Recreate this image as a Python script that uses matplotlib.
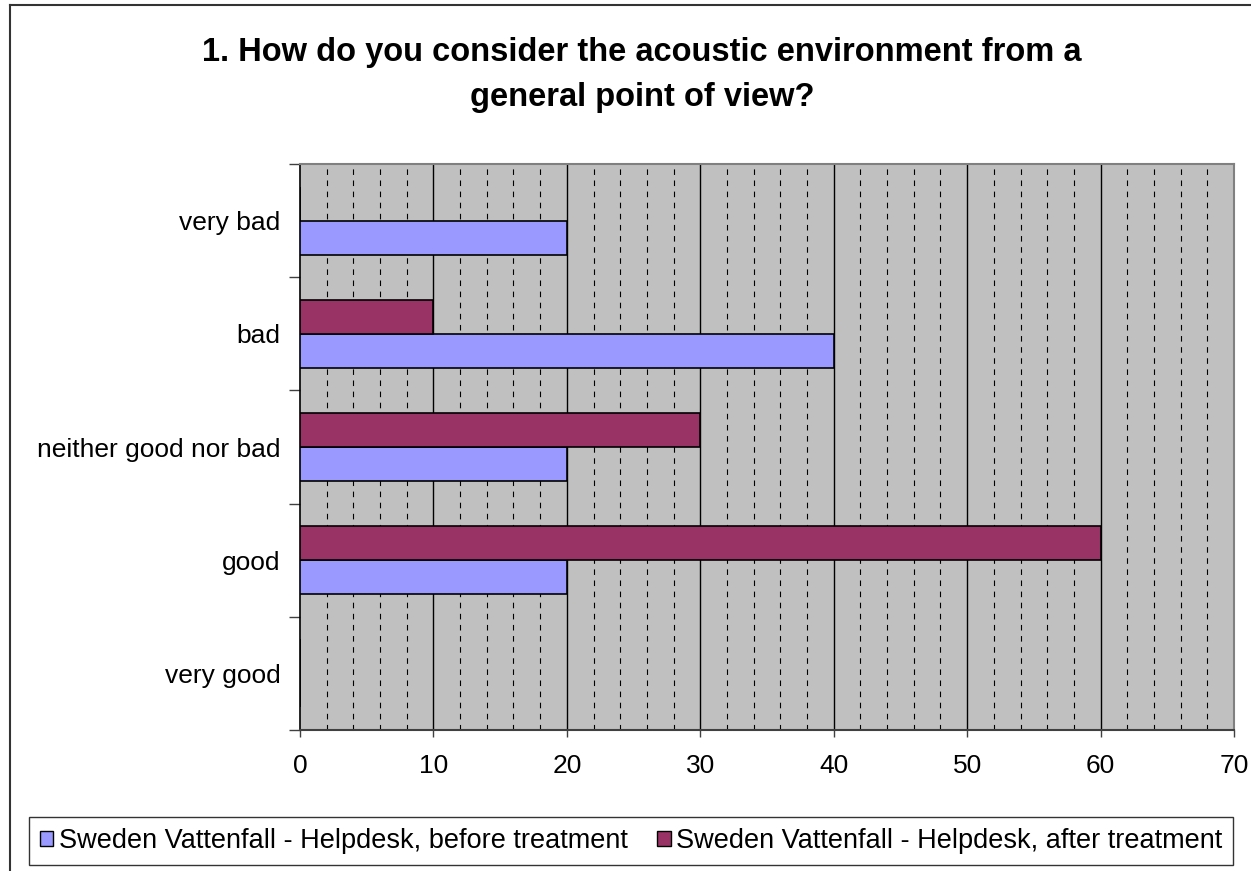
import matplotlib
matplotlib.use('Agg')
import matplotlib.pyplot as plt
from matplotlib.patches import Patch
from matplotlib.lines import Line2D
import numpy as np

plt.rcParams['font.family'] = ['Liberation Sans', 'DejaVu Sans']

# данные
categories = ['very good', 'good', 'neither good nor bad', 'bad', 'very bad']
before = [0, 20, 20, 40, 20]
after = [0, 60, 30, 10, 0]
series_names = ['Sweden Vattenfall - Helpdesk, before treatment',
                'Sweden Vattenfall - Helpdesk, after treatment']
title = '1. How do you consider the acoustic environment from a\ngeneral point of view?'

W, H = 1251, 871
fig = plt.figure(figsize=(W / 100, H / 100), dpi=100)

# рамка диаграммы (обрезана справа и снизу)
fig.add_artist(Line2D([10 / W, 10 / W], [0, 1 - 5 / H], color='#333333', lw=1.5))
fig.add_artist(Line2D([10 / W, 1], [1 - 5 / H, 1 - 5 / H], color='#333333', lw=1.5))

ax = fig.add_axes([300 / W, 1 - 730 / H, 934 / W, 566 / H])
ax.set_facecolor('#C0C0C0')

y = np.arange(len(categories))
h = 0.3
ax.barh(y - h / 2, before, height=h, color='#9999FF', edgecolor='black', lw=1.2, zorder=3)
ax.barh(y + h / 2, after, height=h, color='#993366', edgecolor='black', lw=1.2, zorder=3)

ax.set_xlim(0, 70)
ax.set_ylim(-0.5, 4.5)

# сетка
for v in range(2, 70, 2):
    if v % 10:
        ax.axvline(v, color='black', lw=0.8, ls=(0, (5, 5)), zorder=1)
for v in range(10, 70, 10):
    ax.axvline(v, color='black', lw=1.0, zorder=1)

ax.set_xticks(range(0, 71, 10))
ax.tick_params(axis='x', length=5, width=1, color='#404040', labelsize=19, pad=12)
ax.set_yticks(np.arange(-0.5, 5, 1))
ax.set_yticklabels([])
ax.set_yticks(y, minor=True)
ax.set_yticklabels(categories, minor=True, fontsize=19)
ax.tick_params(axis='y', which='major', length=8, width=1, color='#404040')
ax.tick_params(axis='y', which='minor', length=0, pad=14)

for s in ['top', 'right']:
    ax.spines[s].set_color('#808080')
    ax.spines[s].set_linewidth(1.5)
ax.spines['left'].set_color('black')
ax.spines['left'].set_linewidth(1.2)
ax.spines['bottom'].set_color('#404040')
ax.spines['bottom'].set_linewidth(1.5)

fig.text(642 / W, 1 - 75 / H, title, ha='center', va='center', fontsize=23.5,
         fontweight='bold', linespacing=1.55)

handles = [Patch(facecolor='#9999FF', edgecolor='black', lw=1),
           Patch(facecolor='#993366', edgecolor='black', lw=1)]
leg = fig.legend(handles, series_names, loc='center', ncol=2,
                 bbox_to_anchor=(631 / W, 1 - 841 / H), fontsize=19.5,
                 frameon=True, fancybox=False, edgecolor='black',
                 handlelength=0.5, handleheight=0.5, handletextpad=0.2,
                 columnspacing=1.1, borderpad=0.4, borderaxespad=0)
leg.get_frame().set_linewidth(1)

fig.savefig('out.png', dpi=100)
